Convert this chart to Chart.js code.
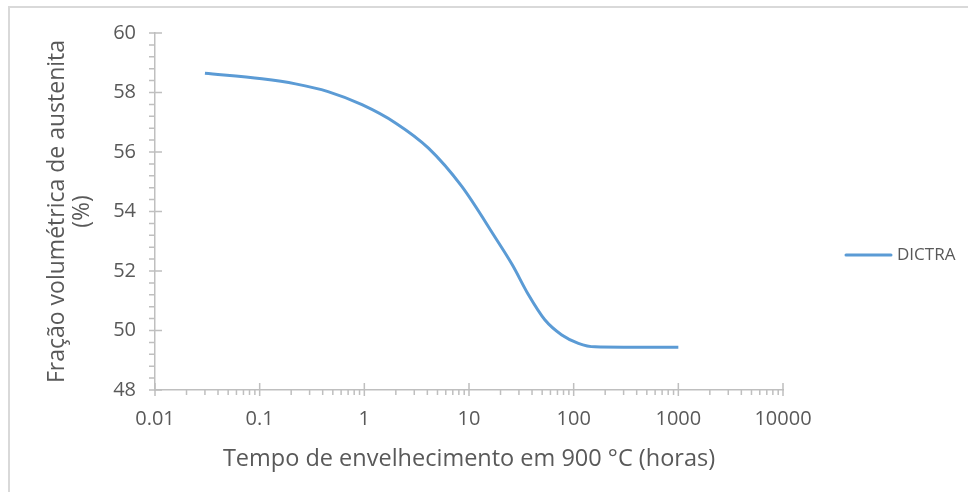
<!DOCTYPE html>
<html>
<head>
<meta charset="utf-8">
<script src="https://cdn.jsdelivr.net/npm/chart.js@4.4.1/dist/chart.umd.min.js"></script>
<style>
  html, body { margin: 0; padding: 0; background: #fff; }
  #frame {
    position: absolute; left: 8px; top: 6px; width: 960px; height: 486px;
    border-top: 2px solid #d9d9d9; border-left: 2px solid #d9d9d9;
  }
  #wrap { position: absolute; left: 0; top: 0; width: 968px; height: 492px; }
</style>
</head>
<body>
<div id="frame"></div>
<div id="wrap"><canvas id="agingChart" width="968" height="492"></canvas></div>
<script>
// tempo de envelhecimento (h) e fração de austenita (%) calculadas pelo DICTRA
const hours = [0.03, 0.105, 0.22, 0.45, 0.95, 2, 4.1, 8.5, 18, 26, 37, 53, 77, 111, 160, 300, 1000];
const austenite = [58.65, 58.46, 58.29, 58.03, 57.59, 56.97, 56.13, 54.85, 53.10, 52.20, 51.20, 50.36, 49.85, 49.57, 49.45, 49.44, 49.44];
const xTicks = [0.01, 0.1, 1, 10, 100, 1000, 10000];
const yTicks = [48, 50, 52, 54, 56, 58, 60];

const axisColor = '#bfbfbf';
const textColor = '#595959';
const lineColor = '#5b9bd5';
const fontFamily = '"Open Sans", "DejaVu Sans", sans-serif';

// marcas principais cruzando o eixo, secundárias só do lado de fora
const axisTicks = {
    id: 'axisTicks',
    afterDraw(chart) {
        const ctx = chart.ctx;
        const x = chart.scales.x;
        const y = chart.scales.y;
        const ax = chart.chartArea.left;
        const ay = chart.chartArea.bottom;
        ctx.save();
        ctx.strokeStyle = axisColor;
        ctx.lineWidth = 1.5;
        ctx.beginPath();
        yTicks.forEach((v, i) => {
            const py = y.getPixelForValue(v);
            ctx.moveTo(ax - 6, py);
            ctx.lineTo(ax + 7, py);
            if (i < yTicks.length - 1) {
                for (let k = 1; k < 5; k++) {
                    const my = y.getPixelForValue(v + k * 0.4);
                    ctx.moveTo(ax - 6, my);
                    ctx.lineTo(ax, my);
                }
            }
        });
        xTicks.forEach((v, i) => {
            const px = x.getPixelForValue(v);
            ctx.moveTo(px, ay - 7);
            ctx.lineTo(px, ay + 6);
            if (i < xTicks.length - 1) {
                for (let k = 2; k < 10; k++) {
                    const mx = x.getPixelForValue(v * k);
                    ctx.moveTo(mx, ay);
                    ctx.lineTo(mx, ay + 5);
                }
            }
        });
        ctx.stroke();
        ctx.restore();
    }
};

// legenda simples à direita da área do gráfico
const sideLegend = {
    id: 'sideLegend',
    afterDraw(chart) {
        const ctx = chart.ctx;
        const ds = chart.data.datasets[0];
        const x0 = chart.chartArea.right + 63;
        const yMid = chart.height / 2 + 9;
        ctx.save();
        ctx.strokeStyle = ds.borderColor;
        ctx.lineWidth = 3;
        ctx.lineCap = 'round';
        ctx.beginPath();
        ctx.moveTo(x0, yMid);
        ctx.lineTo(x0 + 45, yMid);
        ctx.stroke();
        ctx.fillStyle = textColor;
        ctx.font = '17px ' + fontFamily;
        ctx.textBaseline = 'middle';
        ctx.fillText(ds.label, x0 + 51, yMid);
        ctx.restore();
    }
};

new Chart(document.getElementById('agingChart'), {
    type: 'line',
    data: {
        datasets: [{
            label: 'DICTRA',
            data: hours.map((h, i) => ({ x: h, y: austenite[i] })),
            borderColor: lineColor,
            backgroundColor: lineColor,
            borderWidth: 3,
            pointRadius: 0,
            cubicInterpolationMode: 'monotone',
            fill: false
        }]
    },
    options: {
        responsive: false,
        animation: false,
        layout: { padding: { top: 33, right: 185, left: 0, bottom: 0 } },
        plugins: {
            legend: { display: false },
            tooltip: { enabled: false }
        },
        scales: {
            x: {
                type: 'logarithmic',
                min: 0.01,
                max: 10000,
                afterBuildTicks: scale => { scale.ticks = xTicks.map(v => ({ value: v })); },
                afterFit: scale => { scale.height = 102; },
                grid: { display: true, drawOnChartArea: false, drawTicks: false },
                border: { display: true, color: axisColor, width: 1.5 },
                ticks: {
                    color: textColor,
                    font: { family: fontFamily, size: 20 },
                    padding: 17,
                    maxRotation: 0,
                    autoSkip: false,
                    callback: v => String(v)
                },
                title: {
                    display: true,
                    text: 'Tempo de envelhecimento em 900 °C (horas)',
                    color: textColor,
                    font: { family: fontFamily, size: 23.5 },
                    padding: { top: 8, bottom: 19 }
                }
            },
            y: {
                min: 48,
                max: 60,
                afterBuildTicks: scale => { scale.ticks = yTicks.map(v => ({ value: v })); },
                afterFit: scale => { scale.width = 155; },
                grid: { display: true, drawOnChartArea: false, drawTicks: false },
                border: { display: true, color: axisColor, width: 1.5 },
                ticks: {
                    color: textColor,
                    font: { family: fontFamily, size: 20 },
                    padding: 19
                },
                title: {
                    display: true,
                    text: ['Fração volumétrica de austenita', '(%)'],
                    color: textColor,
                    font: { family: fontFamily, size: 23, lineHeight: 1.1 },
                    padding: { top: 45, bottom: 0 }
                }
            }
        }
    },
    plugins: [axisTicks, sideLegend]
});
</script>
</body>
</html>
